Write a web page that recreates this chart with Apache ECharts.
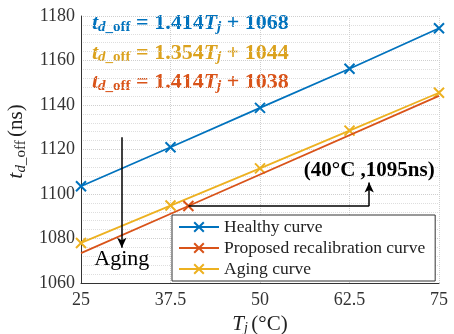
<!DOCTYPE html>
<html>
<head>
<meta charset="utf-8">
<script src="https://cdn.jsdelivr.net/npm/echarts@6/dist/echarts.min.js"></script>
<style>
  html, body { margin: 0; padding: 0; background: #fff; }
  #main { width: 454px; height: 334px; }
</style>
</head>
<body>
<div id="main"></div>
<script>
// junction temperature (°C)
var tj = [25, 37.5, 50, 62.5, 75];
var healthy = [1103.5, 1121, 1138.7, 1156.3, 1174.5];
var aging = [1078, 1094.8, 1111.5, 1128.5, 1145.5];
// recalibration curve: only the 40°C point carries a marker
var recalTj = [25, 40, 75];
var recalVal = [1073.4, 1094.6, 1144.1];
var recalMarked = [false, true, false];

var xTicks = [25, 37.5, 50, 62.5, 75];

var BLUE = '#0072BD', RED = '#D95319', YELLOW = '#EDB120';
var SERIF = '"Liberation Serif", "Times New Roman", serif';
var CROSS = 'path://M0,0L10,10M10,0L0,10';

var chart = echarts.init(document.getElementById('main'));

function pairs(xs, ys) {
    return xs.map(function (x, i) { return [x, ys[i]]; });
}

// graphic text uses zrender style keys (fill, not color)
function eqRich(color) {
    return {
        t: { fontFamily: SERIF, fontSize: 22, fontWeight: 'bold', fontStyle: 'italic', fill: color },
        d: { fontFamily: SERIF, fontSize: 15, fontWeight: 'bold', fontStyle: 'italic', fill: color, padding: [9, 0, 0, 0] },
        o: { fontFamily: SERIF, fontSize: 15, fontWeight: 'bold', fill: color, padding: [9, 0, 0, 0] },
        n: { fontFamily: SERIF, fontSize: 22, fontWeight: 'bold', fill: color }
    };
}

var recalData = recalTj.map(function (x, i) {
    return recalMarked[i] ? [x, recalVal[i]] : { value: [x, recalVal[i]], symbol: 'none' };
});

var option = {
    animation: false,
    grid: { left: 81, right: 15, top: 16, bottom: 51, outerBoundsMode: 'none', containLabel: false },
    legend: {
        orient: 'vertical',
        left: 172,
        top: 215,
        padding: [3, 10, 3, 6],
        itemGap: 3,
        itemWidth: 40,
        itemHeight: 12,
        backgroundColor: '#fff',
        borderColor: '#333',
        borderWidth: 1,
        textStyle: { fontFamily: SERIF, fontSize: 17.5, color: '#222' },
        data: ['Healthy curve', 'Proposed recalibration curve', 'Aging curve']
    },
    xAxis: {
        type: 'value',
        min: 25,
        max: 75,
        interval: 12.5,
        name: '{t|T}{j|j} {n|(°C)}',
        nameLocation: 'middle',
        nameGap: 25,
        nameTextStyle: {
            rich: {
                t: { fontFamily: SERIF, fontSize: 21, fontStyle: 'italic', color: '#222' },
                j: { fontFamily: SERIF, fontSize: 14, fontStyle: 'italic', color: '#222', padding: [8, 0, 0, 0] },
                n: { fontFamily: SERIF, fontSize: 21, color: '#222' }
            }
        },
        axisLine: { lineStyle: { color: '#333', width: 1 } },
        axisTick: { show: false },
        axisLabel: {
            fontFamily: SERIF, fontSize: 18, color: '#333', margin: 8,
            formatter: function (v) { return xTicks.indexOf(v) >= 0 ? String(v) : ''; }
        },
        splitLine: { show: true, lineStyle: { color: '#cfcfcf', type: 'dotted', width: 1 } }
    },
    yAxis: {
        type: 'value',
        min: 1060,
        max: 1180,
        interval: 20,
        name: '{t|t}{d|d}{o|_off} {n|(ns)}',
        nameLocation: 'middle',
        nameRotate: 90,
        nameGap: 47,
        nameTextStyle: {
            padding: [0, 0, 0, 16],
            rich: {
                t: { fontFamily: SERIF, fontSize: 22, fontStyle: 'italic', color: '#222' },
                d: { fontFamily: SERIF, fontSize: 15, fontStyle: 'italic', color: '#222', padding: [9, 0, 0, 0] },
                o: { fontFamily: SERIF, fontSize: 15, color: '#222', padding: [9, 0, 0, 0] },
                n: { fontFamily: SERIF, fontSize: 21, color: '#222' }
            }
        },
        axisLine: { show: true, lineStyle: { color: '#333', width: 1 } },
        axisTick: { show: false },
        axisLabel: {
            fontFamily: SERIF, fontSize: 18, color: '#333', margin: 6,
            formatter: function (v) { return String(v); }
        },
        minorTick: { show: false, splitNumber: 5 },
        splitLine: { show: true, lineStyle: { color: '#cfcfcf', type: 'dotted', width: 1 } },
        minorSplitLine: { show: true, lineStyle: { color: '#dedede', type: 'dotted', width: 1 } }
    },
    series: [
        {
            name: 'Healthy curve',
            type: 'line',
            data: pairs(tj, healthy),
            symbol: CROSS,
            symbolSize: 10,
            lineStyle: { color: BLUE, width: 1.8 },
            itemStyle: { color: BLUE, borderColor: BLUE, borderWidth: 2 },
            z: 3
        },
        {
            name: 'Proposed recalibration curve',
            type: 'line',
            data: recalData,
            symbol: CROSS,
            symbolSize: 10,
            lineStyle: { color: RED, width: 1.8 },
            itemStyle: { color: RED, borderColor: RED, borderWidth: 2 },
            z: 4,
            markLine: {
                silent: true,
                symbol: ['none', 'arrow'],
                symbolSize: [7, 10],
                lineStyle: { color: '#000', width: 1.5, type: 'solid' },
                label: { show: false },
                data: [
                    [{ coord: [30.7, 1125.5] }, { coord: [30.7, 1075.8] }],
                    [{ coord: [40, 1094.6], symbol: 'none' }, { coord: [65.25, 1094.6], symbol: 'none' }],
                    [{ coord: [65.25, 1094.6] }, { coord: [65.25, 1105.2] }]
                ]
            },
            markPoint: {
                silent: true,
                symbol: 'circle',
                symbolSize: 1,
                itemStyle: { color: 'rgba(0,0,0,0)' },
                label: { show: true, position: 'inside', fontFamily: SERIF, color: '#000' },
                data: [
                    { coord: [30.7, 1070.6], value: 'Aging', label: { fontSize: 22, formatter: 'Aging' } },
                    { coord: [65.25, 1110.6], value: '(40°C ,1095ns)', label: { fontSize: 21, fontWeight: 'bold', formatter: '(40°C ,1095ns)' } }
                ]
            }
        },
        {
            name: 'Aging curve',
            type: 'line',
            data: pairs(tj, aging),
            symbol: CROSS,
            symbolSize: 10,
            lineStyle: { color: YELLOW, width: 1.8 },
            itemStyle: { color: YELLOW, borderColor: YELLOW, borderWidth: 2 },
            z: 3
        }
    ],
    graphic: [
        { type: 'text', left: 92, top: 12, style: { text: '{t|t}{d|d}{o|_off}{n| = 1.414}{t|T}{d|j}{n| + 1068}', rich: eqRich(BLUE) } },
        { type: 'text', left: 92, top: 42, style: { text: '{t|t}{d|d}{o|_off}{n| = 1.354}{t|T}{d|j}{n| + 1044}', rich: eqRich('#DBA21E') } },
        { type: 'text', left: 92, top: 71, style: { text: '{t|t}{d|d}{o|_off}{n| = 1.414}{t|T}{d|j}{n| + 1038}', rich: eqRich(RED) } }
    ]
};

chart.setOption(option);
</script>
</body>
</html>
